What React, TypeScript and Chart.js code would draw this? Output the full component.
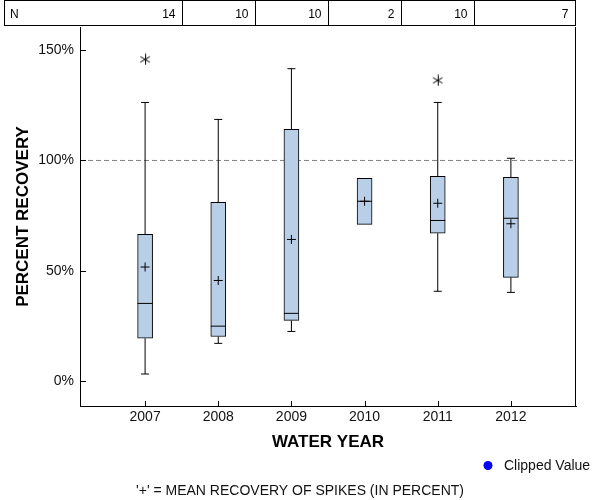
import React, { useEffect, useRef } from "react";
import { Chart, registerables } from "chart.js";

Chart.register(...registerables);

// ---- data ----
const years = [2007, 2008, 2009, 2010, 2011, 2012];
const nCounts = [14, 10, 10, 2, 10, 7];
const lowWhisker = [3.2, 17.1, 22.5, null, 40.7, 40.2];
const q1 = [19.4, 20.2, 27.5, 71.0, 67.0, 47.0];
const median = [35.2, 24.9, 30.7, 81.5, 72.8, 73.8];
const q3 = [66.5, 81.0, 114.1, 91.9, 92.8, 92.3];
const highWhisker = [126.3, 118.6, 141.6, null, 126.3, 101.0];
const mean = [51.7, 45.6, 64.2, 81.5, 80.6, 71.3];
const outlierYears = [2007, 2011];
const outlierValues = [145.8, 136.3];
const refLevel = 100;
const yTicks = [0, 50, 100, 150];
const xMin = 2006.11;
const xMax = 2012.89;
const yMin = -11.3;
const yMax = 160.5;

const FONT = '"Liberation Sans", Arial, sans-serif';

function makeAsterisk(): HTMLCanvasElement {
  const c = document.createElement("canvas");
  c.width = 12;
  c.height = 12;
  const g = c.getContext("2d")!;
  g.strokeStyle = "#000";
  g.lineWidth = 1;
  const cx = 6, cy = 6, r = 5.5;
  const dx = r * Math.cos(Math.PI / 6), dy = r * Math.sin(Math.PI / 6);
  g.beginPath();
  g.moveTo(cx + 0.5, cy - r); g.lineTo(cx + 0.5, cy + r);
  g.moveTo(cx - dx, cy - dy); g.lineTo(cx + dx, cy + dy);
  g.moveTo(cx - dx, cy + dy); g.lineTo(cx + dx, cy - dy);
  g.stroke();
  return c;
}

const decorPlugin = {
  id: "decor",
  afterDraw(chart: any) {
    const ctx = chart.ctx as CanvasRenderingContext2D;
    const area = chart.chartArea;
    const xs = chart.scales.x;
    const ys = chart.scales.y;
    ctx.save();
    ctx.strokeStyle = "#000";
    ctx.lineWidth = 1;

    // right frame line
    ctx.beginPath();
    ctx.moveTo(Math.round(area.right) - 0.5, area.top);
    ctx.lineTo(Math.round(area.right) - 0.5, area.bottom + 0.5);
    ctx.stroke();

    // inside tick marks
    ctx.beginPath();
    yTicks.forEach((v) => {
      const y = Math.round(ys.getPixelForValue(v)) + 0.5;
      ctx.moveTo(area.left, y);
      ctx.lineTo(area.left + 6, y);
    });
    years.forEach((v) => {
      const x = Math.round(xs.getPixelForValue(v)) + 0.5;
      ctx.moveTo(x, area.bottom);
      ctx.lineTo(x, area.bottom - 5);
    });
    ctx.stroke();

    // N table
    const tTop = 0.5, tBot = 25.5, tLeft = 4.5, tRight = Math.round(area.right) - 0.5;
    ctx.strokeRect(tLeft, tTop, tRight - tLeft, tBot - tTop);
    const bounds: number[] = [];
    for (let i = 0; i < years.length - 1; i++) {
      bounds.push(Math.round(xs.getPixelForValue((years[i] + years[i + 1]) / 2)) + 0.5);
    }
    ctx.beginPath();
    bounds.forEach((b) => {
      ctx.moveTo(b, tTop);
      ctx.lineTo(b, tBot);
    });
    ctx.stroke();
    const rights = [...bounds, tRight];
    ctx.fillStyle = "#000";
    ctx.font = '12px "Liberation Sans Narrow", "Liberation Sans", Arial, sans-serif';
    ctx.textBaseline = "middle";
    ctx.textAlign = "left";
    ctx.fillText("N", 10, 15);
    ctx.textAlign = "right";
    nCounts.forEach((n, i) => {
      ctx.fillText(String(n), rights[i] - 7, 15);
    });

    // axis titles
    ctx.fillStyle = "#000";
    ctx.font = "bold 17px " + FONT;
    ctx.textAlign = "center";
    ctx.textBaseline = "middle";
    ctx.fillText("WATER YEAR", (area.left + area.right) / 2, 442);
    ctx.save();
    ctx.translate(23, (area.top + area.bottom) / 2);
    ctx.rotate(-Math.PI / 2);
    ctx.fillText("PERCENT RECOVERY", 0, 0);
    ctx.restore();

    // legend
    ctx.fillStyle = "#0000ff";
    ctx.beginPath();
    ctx.arc(488, 465.5, 4.5, 0, Math.PI * 2);
    ctx.fill();
    ctx.fillStyle = "#111";
    ctx.font = "14px " + FONT;
    ctx.textAlign = "left";
    ctx.fillText("Clipped Value", 504, 466);

    // footnote
    ctx.textAlign = "center";
    ctx.fillText("'+' = MEAN RECOVERY OF SPIKES (IN PERCENT)", 300, 491);
    ctx.restore();
  },
};

export default function App() {
  const ref = useRef<HTMLCanvasElement>(null);

  useEffect(() => {
    document.body.style.margin = "0";
    const asterisk = makeAsterisk();

    const whiskerData: any[] = [];
    years.forEach((yr, i) => {
      if (lowWhisker[i] != null) {
        whiskerData.push({ x: yr, y: lowWhisker[i] }, { x: yr, y: q1[i] }, { x: yr, y: null });
      }
      if (highWhisker[i] != null) {
        whiskerData.push({ x: yr, y: q3[i] }, { x: yr, y: highWhisker[i] }, { x: yr, y: null });
      }
    });
    const capData: any[] = [];
    years.forEach((yr, i) => {
      if (lowWhisker[i] != null) capData.push({ x: yr, y: lowWhisker[i] });
      if (highWhisker[i] != null) capData.push({ x: yr, y: highWhisker[i] });
    });

    const chart = new Chart(ref.current!, {
      type: "bar",
      data: {
        datasets: [
          {
            type: "line",
            label: "ref",
            data: [
              { x: xMin, y: refLevel },
              { x: xMax, y: refLevel },
            ],
            borderColor: "#808080",
            borderWidth: 1,
            borderDash: [5, 3],
            pointRadius: 0,
            order: 7,
          } as any,
          {
            type: "line",
            label: "whiskers",
            data: whiskerData,
            borderColor: "#000",
            borderWidth: 1,
            pointRadius: 0,
            spanGaps: false,
            order: 6,
          } as any,
          {
            type: "bar",
            label: "box",
            data: years.map((yr, i) => ({ x: yr, y: [q1[i], q3[i]] })),
            backgroundColor: "rgb(185,207,231)",
            borderColor: "#000",
            borderWidth: 1,
            borderSkipped: false,
            barThickness: 15,
            grouped: false,
            order: 5,
          } as any,
          {
            type: "scatter",
            label: "median",
            data: years.map((yr, i) => ({ x: yr, y: median[i] })),
            pointStyle: "line",
            pointRadius: 7.5,
            borderColor: "#000",
            borderWidth: 1,
            order: 4,
          } as any,
          {
            type: "scatter",
            label: "mean",
            data: years.map((yr, i) => ({ x: yr, y: mean[i] })),
            pointStyle: "cross",
            pointRadius: 4.5,
            borderColor: "#000",
            borderWidth: 1,
            order: 3,
          } as any,
          {
            type: "scatter",
            label: "caps",
            data: capData,
            pointStyle: "line",
            pointRadius: 4,
            borderColor: "#000",
            borderWidth: 1,
            order: 2,
          } as any,
          {
            type: "scatter",
            label: "outliers",
            data: outlierYears.map((yr, i) => ({ x: yr, y: outlierValues[i] })),
            pointStyle: asterisk,
            pointRadius: 6,
            order: 1,
          } as any,
        ],
      },
      options: {
        responsive: false,
        animation: false,
        events: [],
        layout: { padding: { top: 27, right: 24, left: 0, bottom: 0 } },
        plugins: { legend: { display: false }, tooltip: { enabled: false } },
        scales: {
          x: {
            type: "linear",
            offset: false,
            min: xMin,
            max: xMax,
            grid: { display: false, drawTicks: false, offset: false },
            border: { display: true, color: "#000", width: 1 },
            afterBuildTicks: (s: any) => {
              s.ticks = years.map((v) => ({ value: v }));
            },
            afterFit: (s: any) => {
              s.height = 94;
            },
            ticks: {
              autoSkip: false,
              maxRotation: 0,
              padding: 3,
              color: "#111",
              font: { family: FONT, size: 14 },
              callback: (v: any) => String(v),
            },
          },
          y: {
            type: "linear",
            min: yMin,
            max: yMax,
            grid: { display: false, drawTicks: false },
            border: { display: true, color: "#000", width: 1 },
            afterBuildTicks: (s: any) => {
              s.ticks = yTicks.map((v) => ({ value: v }));
            },
            afterFit: (s: any) => {
              s.width = 80;
            },
            ticks: {
              padding: 6,
              color: "#111",
              font: { family: FONT, size: 14 },
              callback: (v: any) => v + "%",
            },
          },
        },
      } as any,
      plugins: [decorPlugin],
    });
    return () => chart.destroy();
  }, []);

  return (
    <div style={{ width: 600, height: 500 }}>
      <canvas ref={ref} width={600} height={500} style={{ display: "block" }} />
    </div>
  );
}
